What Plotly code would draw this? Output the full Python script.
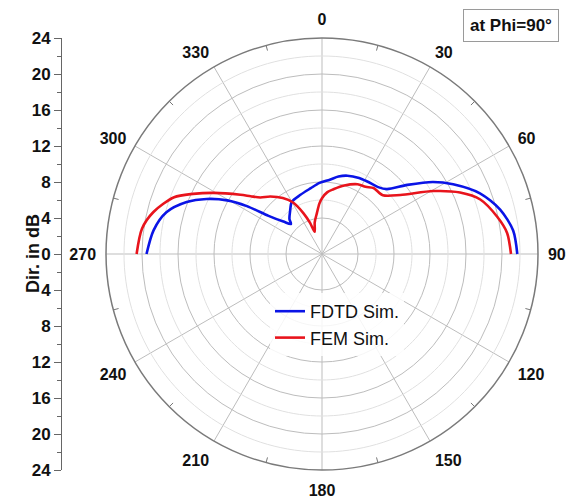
import plotly.graph_objects as go

# ---------------- data ----------------
fdtd_theta = [-90, -82, -75, -69, -64.5, -60.5, -57.5, -54.5, -50, -46, -43, -37,
              -30, -20, -10, -2, 6, 12, 18, 26, 32, 40, 45, 51, 57, 62, 69, 76, 83, 90]
fdtd_r = [19.5, 18.9, 17.9, 16.1, 14.2, 12.1, 9.9, 7.3, 5.6, 4.8, 5.3, 5.9,
          6.7, 7.0, 7.4, 7.9, 8.3, 8.8, 9.15, 9.4, 9.5, 9.7, 10.2, 12.2, 14.7, 16.5, 18.8, 20.4, 21.4, 21.7]

fem_theta = [-90, -82, -76, -69, -65, -60.5, -54, -51, -47.5, -42, -35, -29.5,
             -24.5, -21, -18.3, -13, -7, -3, 0, 5, 10, 18, 27, 33, 38, 46, 53,
             60.5, 66, 71, 78, 83.5, 90]
fem_r = [20.6, 20.2, 19.3, 17.6, 15.8, 13.8, 11.2, 10.2, 9.3, 8.6, 7.6, 6.6,
         5.0, 3.7, 2.6, 3.6, 4.6, 5.6, 6.2, 6.9, 7.3, 8.0, 8.7, 8.9, 9.3, 9.4, 10.9,
         14.2, 16.8, 18.6, 19.9, 20.7, 21.0]

angle_ticks = [0, 30, 60, 90, 120, 150, 180, 210, 240, 270, 300, 330]
minor_circles = [6, 10, 14, 18, 22]
major_circles = [4, 8, 12, 16, 20]
db_ticks = [-24, -20, -16, -12, -8, -4, 0, 4, 8, 12, 16, 20, 24]
db_labels = [str(abs(v)) for v in db_ticks]

FONT = "Liberation Sans, Arial, sans-serif"
R_MAX = 24

fig = go.Figure()

# minor grid circles (light)
circ_theta = list(range(0, 361, 2))
for rc in minor_circles:
    fig.add_trace(go.Scatterpolar(
        r=[rc] * len(circ_theta), theta=circ_theta, mode="lines",
        line=dict(color="#e0e0e0", width=1), hoverinfo="skip", showlegend=False))

# minor ticks on the outer circle every 15 deg (between the 30-deg spokes)
tk_r, tk_t = [], []
for a in angle_ticks:
    tk_r += [R_MAX - 0.6, R_MAX, None]
    tk_t += [a + 15, a + 15, None]
fig.add_trace(go.Scatterpolar(r=tk_r, theta=tk_t, mode="lines",
                              line=dict(color="#777777", width=1),
                              hoverinfo="skip", showlegend=False))

fig.add_trace(go.Scatterpolar(r=fdtd_r, theta=fdtd_theta, mode="lines",
                              name="FDTD Sim.",
                              line=dict(color="#0a14e6", width=2.6, shape="spline", smoothing=0.8)))
fig.add_trace(go.Scatterpolar(r=fem_r, theta=fem_theta, mode="lines",
                              name="FEM Sim.",
                              line=dict(color="#e8141c", width=2.6, shape="spline", smoothing=0.8)))

# invisible trace to bring up the left dB axis
fig.add_trace(go.Scatter(x=[None], y=[None], xaxis="x", yaxis="y",
                         showlegend=False, hoverinfo="skip"))

fig.update_layout(
    width=575, height=504,
    margin=dict(l=0, r=0, t=0, b=0, autoexpand=False),
    paper_bgcolor="white", plot_bgcolor="white",
    font=dict(family=FONT, color="#111111"),
    polar=dict(
        domain=dict(x=[106 / 575, 538 / 575], y=[34 / 504, 466 / 504]),
        bgcolor="white",
        radialaxis=dict(range=[0, R_MAX], tickvals=major_circles,
                        showticklabels=False, ticks="", showline=False,
                        gridcolor="#bdbdbd", gridwidth=1),
        angularaxis=dict(rotation=90, direction="clockwise",
                         tickvals=angle_ticks,
                         ticktext=[str(a) for a in angle_ticks],
                         tickfont=dict(size=16, family=FONT, weight="bold", color="#111"),
                         ticks="outside", ticklen=6, tickcolor="rgba(0,0,0,0)",
                         showline=True, linecolor="#7a7a7a", linewidth=1.5,
                         gridcolor="#bdbdbd", gridwidth=1),
    ),
    xaxis=dict(domain=[62 / 575, 70 / 575], visible=False, range=[0, 1], automargin=False),
    yaxis=dict(domain=[34 / 504, 466 / 504], range=[-24, 24], anchor="x",
               automargin=False,
               tickvals=db_ticks, ticktext=db_labels,
               showline=True, linecolor="#666", linewidth=1,
               ticks="outside", ticklen=7, tickcolor="#666",
               minor=dict(dtick=2, tick0=0, ticks="outside", ticklen=4, tickcolor="#666"),
               showgrid=False, zeroline=False,
               tickfont=dict(size=17, family=FONT, weight="bold", color="#111")),
    legend=dict(x=270 / 575, y=1 - 293 / 504, xanchor="left", yanchor="top",
                bgcolor="rgba(255,255,255,0.85)", borderwidth=0, tracegroupgap=0,
                font=dict(size=18, family=FONT, color="#111")),
    annotations=[
        dict(text="Dir. in dB", textangle=-90, x=21 / 575, y=1 - 254 / 504,
             xref="paper", yref="paper", showarrow=False,
             font=dict(size=18, family=FONT, weight="bold", color="#111")),
        dict(text="at Phi=90°", x=511 / 575, y=1 - 25 / 504,
             xref="paper", yref="paper", showarrow=False,
             xanchor="center", yanchor="middle",
             bordercolor="#9a9a9a", borderwidth=1, borderpad=6, bgcolor="white",
             font=dict(size=17, family=FONT, weight="bold", color="#111")),
    ],
)

fig.write_html("out.html")
